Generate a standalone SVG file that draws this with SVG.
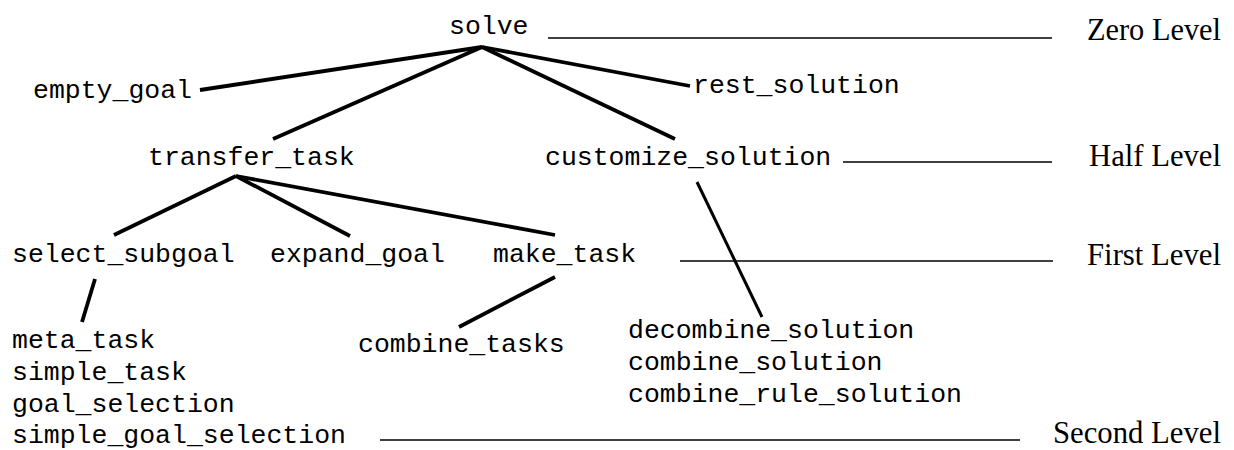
<svg xmlns="http://www.w3.org/2000/svg" width="1234" height="450" viewBox="0 0 1234 450">
  <style>
    .n { font-family: "Liberation Mono", "Courier New", monospace; font-size: 26.5px; fill: #000; }
    .lv { font-family: "Liberation Serif", "Times New Roman", serif; font-size: 31px; fill: #000; }
    .edge { stroke: #000; stroke-width: 3.8; stroke-linecap: butt; fill: none; }
    .rule { stroke: #000; stroke-width: 1.3; fill: none; }
  </style>
  <rect width="1234" height="450" fill="#fff"/>

  <!-- level rules and labels -->
  <g id="levels">
    <line class="rule" x1="548" y1="38" x2="1052" y2="38"/>
    <text class="lv" x="1087" y="40" textLength="134" lengthAdjust="spacingAndGlyphs">Zero Level</text>
    <line class="rule" x1="843" y1="162" x2="1052" y2="162"/>
    <text class="lv" x="1089" y="166" textLength="132" lengthAdjust="spacingAndGlyphs">Half Level</text>
    <line class="rule" x1="680" y1="261" x2="1053" y2="261"/>
    <text class="lv" x="1087" y="265" textLength="134" lengthAdjust="spacingAndGlyphs">First Level</text>
    <line class="rule" x1="380" y1="440" x2="1020" y2="440"/>
    <text class="lv" x="1053" y="443" textLength="168" lengthAdjust="spacingAndGlyphs">Second Level</text>
  </g>

  <!-- tree connectors -->
  <g id="connectors">
    <line class="edge" x1="482" y1="47" x2="200" y2="90"/>
    <line class="edge" x1="482" y1="47" x2="690" y2="86"/>
    <line class="edge" x1="482" y1="47" x2="273" y2="139"/>
    <line class="edge" x1="482" y1="47" x2="675" y2="139"/>
    <line class="edge" x1="236" y1="176" x2="114" y2="235"/>
    <line class="edge" x1="236" y1="176" x2="350" y2="236"/>
    <line class="edge" x1="236" y1="176" x2="555" y2="235"/>
    <line class="edge" x1="95" y1="279" x2="82" y2="322"/>
    <line class="edge" x1="555" y1="277" x2="459" y2="327"/>
    <line class="edge" style="stroke-width:3" x1="697" y1="182" x2="762" y2="317"/>
  </g>

  <!-- nodes -->
  <g id="solve"><text class="n" x="449" y="34">solve</text></g>
  <g id="empty_goal"><text class="n" x="33" y="98">empty_goal</text></g>
  <g id="rest_solution"><text class="n" x="693" y="93">rest_solution</text></g>
  <g id="transfer_task"><text class="n" x="148" y="165">transfer_task</text></g>
  <g id="customize_solution"><text class="n" x="545" y="165">customize_solution</text></g>
  <g id="select_subgoal"><text class="n" x="12" y="262">select_subgoal</text></g>
  <g id="expand_goal"><text class="n" x="270" y="262">expand_goal</text></g>
  <g id="make_task"><text class="n" x="493" y="262">make_task</text></g>
  <g id="select_subgoal_children">
    <text class="n" x="12" y="348">meta_task</text>
    <text class="n" x="12" y="380">simple_task</text>
    <text class="n" x="12" y="412">goal_selection</text>
    <text class="n" x="12" y="443">simple_goal_selection</text>
  </g>
  <g id="combine_tasks"><text class="n" x="358" y="352">combine_tasks</text></g>
  <g id="customize_solution_children">
    <text class="n" x="628" y="338">decombine_solution</text>
    <text class="n" x="628" y="370">combine_solution</text>
    <text class="n" x="628" y="402">combine_rule_solution</text>
  </g>
</svg>
